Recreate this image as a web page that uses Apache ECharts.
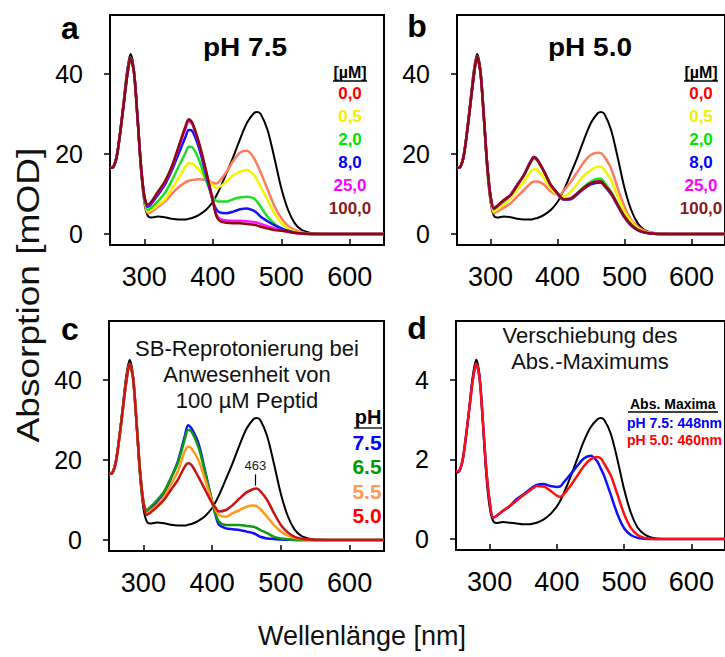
<!DOCTYPE html>
<html>
<head>
<meta charset="utf-8">
<script src="https://cdn.jsdelivr.net/npm/echarts@6/dist/echarts.min.js"></script>
<style>
html,body{margin:0;padding:0;background:#fff;}
#chart{width:725px;height:657px;}
</style>
</head>
<body>
<div id="chart"></div>
<script>
// Wavelength grid shared by all spectra (nm)
const wavelengths = [250,255,260,265,270,275,280,285,290,295,300,305,310,320,330,340,350,360,365,370,380,390,400,405,410,420,430,440,450,460,465,470,480,490,500,510,520,530,540,550,560,580,600,620,650];

// Reference spectrum without peptide (black), mOD
const blackRef = [16.5,17.0,20.0,26.0,33.5,41.0,45.0,41.0,29.0,16.0,8.0, 4.6,4.1,4.4,4.2,3.8,3.6,3.6,3.8,4.0,4.8,6.0,8.0,9.5,11.2,15.2,19.3,23.8,27.8,30.2,30.5,30.0,26.0,19.0,11.5,6.0,2.6,1.0,0.4,0.15,0.05,0,0,0,0];

// (a) pH 7.5, peptide concentration series [µM]
const a_0_0   = [16.5,16.8,19.5,25.5,32.5,39.5,44.0,40.5,29.5,17.5,9.0, 5.2,5.5,6.8,8.1,10.0,11.7,12.9,13.3,13.5,13.7,13.5,12.8,12.6,13.2,15.5,18.3,20.4,20.8,19.0,17.3,15.4,11.2,7.0,4.0,2.0,1.0,0.4,0.15,0.05,0,0,0,0,0];
const a_0_5   = [16.5,16.8,19.5,25.5,32.5,39.5,44.0,40.5,29.5,17.5,9.5, 5.6,6.0,7.3,8.6,11.2,14.0,16.8,17.7,17.6,16.0,13.9,12.2,11.5,11.8,13.1,14.7,15.6,16.0,14.8,13.5,11.8,8.5,5.2,2.8,1.4,0.6,0.25,0.1,0,0,0,0,0,0];
const a_2_0   = [16.5,16.8,19.5,25.5,32.5,39.5,44.0,40.5,29.5,17.5,9.5, 6.0,6.5,8.2,10.2,13.3,16.8,20.2,21.8,21.7,18.5,13.5,9.3,8.3,8.1,8.1,8.7,9.2,9.3,8.9,8.0,6.8,4.3,2.6,1.4,0.6,0.25,0.1,0,0,0,0,0,0,0];
const a_8_0   = [16.5,16.8,19.5,25.5,32.5,39.5,44.0,40.5,29.5,17.5,9.5, 6.8,7.5,9.8,12.3,15.8,20.0,24.2,26.0,25.8,21.5,15.0,8.3,6.2,5.4,5.2,5.6,6.2,6.4,5.8,5.2,4.3,3.2,2.2,1.4,0.8,0.35,0.1,0,0,0,0,0,0,0];
const a_25_0  = [16.5,16.8,19.5,25.5,32.5,39.5,44.0,40.5,29.5,17.5,9.5, 7.2,7.9,10.4,12.9,16.5,21.4,26.3,28.2,27.5,22.5,15.8,8.4,5.0,3.8,3.4,3.3,3.3,3.2,3.0,2.8,2.5,1.9,1.4,0.9,0.5,0.25,0.1,0,0,0,0,0,0,0];
const a_100_0 = [16.5,16.8,19.5,25.5,32.5,39.5,44.0,40.5,29.5,17.5,9.5, 7.3,8.0,10.6,13.1,16.8,21.8,26.8,28.7,27.9,22.8,16.0,8.5,4.6,3.3,2.8,2.7,2.7,2.5,2.3,2.1,1.8,1.4,1.0,0.8,0.6,0.3,0.15,0.05,0,0,0,0,0,0];

// (b) pH 5.0, peptide concentration series [µM]
const b_0_0   = [16.5,16.8,19.5,25.5,32.5,39.5,44.3,40.5,29.5,17.5,9.0, 5.2,5.6,6.6,7.7,9.4,11.0,12.7,13.1,13.1,12.3,10.6,9.8,10.0,11.0,13.1,15.6,18.1,19.8,20.3,20.2,19.3,16.4,11.4,6.8,3.5,1.8,0.8,0.3,0.1,0,0,0,0,0];
const b_0_5   = [16.5,16.8,19.5,25.5,32.5,39.5,44.3,40.5,29.5,17.5,9.5, 5.6,6.1,7.4,8.9,11.0,13.1,15.6,16.2,16.0,13.9,11.4,9.7,9.3,9.4,10.6,12.7,14.7,16.0,16.8,16.8,16.0,13.5,9.3,5.6,3.1,1.4,0.5,0.2,0.05,0,0,0,0,0];
const b_2_0   = [16.5,16.8,19.5,25.5,32.5,39.5,44.3,40.5,29.5,17.5,9.5, 6.2,6.8,8.2,9.7,12.2,14.7,17.8,18.8,18.3,15.5,12.2,10.1,9.0,8.7,8.9,10.3,11.9,13.1,13.8,13.8,12.9,10.6,7.5,4.5,2.4,1.1,0.45,0.15,0,0,0,0,0,0];
const b_8_0   = [16.5,16.8,19.5,25.5,32.5,39.5,44.3,40.5,29.5,17.5,9.5, 6.4,7.0,8.4,9.8,12.3,14.8,18.2,19.3,18.6,15.6,12.2,10.1,9.0,8.6,8.7,10.0,11.4,12.4,12.8,12.8,12.0,9.9,7.0,4.1,2.1,0.9,0.35,0.1,0,0,0,0,0,0];
const b_25_0  = [16.5,16.8,19.5,25.5,32.5,39.5,44.3,40.5,29.5,17.5,9.5, 6.4,7.0,8.5,9.8,12.3,14.8,18.1,19.2,18.5,15.6,12.2,10.2,9.0,8.7,8.9,10.2,11.6,12.7,13.1,13.1,12.2,10.2,7.2,4.3,2.2,1.0,0.4,0.1,0,0,0,0,0,0];
const b_100_0 = [16.5,16.8,19.5,25.5,32.5,39.5,44.3,40.5,29.5,17.5,9.5, 6.4,7.0,8.5,9.75,12.2,14.75,18.1,19.2,18.5,15.6,12.25,10.2,9.1,8.7,8.9,10.2,11.6,12.7,13.1,13.1,12.25,10.2,7.25,4.3,2.25,1.0,0.4,0.1,0,0,0,0,0,0];

// (c) 100 µM peptide, pH series
const c_pH75 = [16.5,16.8,19.5,25.5,32.5,39.5,44.0,40.5,29.5,17.5,9.5, 7.1,7.8,9.6,11.7,15.4,19.6,25.8,28.7,27.9,24.2,17.1,9.6,6.2,3.8,2.9,2.7,2.5,2.1,1.7,1.3,0.8,0.4,0.25,0.1,0.05,0,0,0,0,0,0,0,0,0];
const c_pH65 = [16.5,16.8,19.5,25.5,32.5,39.5,44.0,40.5,29.5,17.5,9.5, 7.5,8.2,10.0,12.1,15.5,19.2,25.0,27.5,27.1,23.3,16.7,9.6,6.6,4.6,3.75,3.75,3.75,3.5,3.3,3.0,2.5,1.7,0.8,0.4,0.2,0.05,0,0,0,0,0,0,0,0];
const c_pH55 = [16.5,16.8,19.5,25.5,32.5,39.5,44.0,40.5,29.5,17.5,9.5, 6.7,7.3,8.8,10.8,13.8,17.1,22.1,23.3,22.9,20.0,15.0,9.6,7.6,6.25,5.8,6.7,7.5,8.3,8.6,8.4,7.75,5.8,3.75,2.1,1.1,0.5,0.2,0.05,0,0,0,0,0,0];
const c_pH50 = [16.5,16.8,19.5,25.5,32.5,39.5,44.0,40.5,29.5,17.5,9.5, 6.25,6.8,8.3,10.0,12.5,15.0,18.3,19.2,18.75,15.8,12.5,9.2,8.1,7.1,7.5,8.75,10.4,11.9,12.75,12.9,12.25,10.0,6.7,3.75,1.9,0.8,0.3,0.1,0,0,0,0,0,0];
const c_peakNm = 463;

// (d) shift of the absorption maximum (scaled spectra)
const d_black = [1.65,1.7,2.0,2.6,3.35,4.1,4.5,4.1,2.9,1.6,0.8, 0.46,0.4,0.43,0.41,0.39,0.37,0.37,0.39,0.41,0.49,0.62,0.82,0.96,1.14,1.55,2.0,2.45,2.8,3.0,3.04,3.0,2.65,2.0,1.25,0.66,0.29,0.12,0.04,0.01,0,0,0,0,0];
const d_pH75  = [1.7,1.72,2.0,2.6,3.3,4.0,4.4,4.05,2.95,1.75,0.95, 0.54,0.58,0.71,0.83,1.0,1.12,1.25,1.31,1.36,1.38,1.33,1.31,1.32,1.42,1.62,1.83,2.02,2.09,1.95,1.78,1.6,1.12,0.63,0.27,0.1,0.03,0.01,0,0,0,0,0,0,0];
const d_pH50  = [1.7,1.72,2.0,2.6,3.3,4.0,4.4,4.05,2.95,1.75,0.95, 0.54,0.58,0.71,0.83,0.96,1.1,1.22,1.28,1.33,1.32,1.22,1.09,1.06,1.12,1.33,1.58,1.83,2.0,2.06,2.03,1.9,1.6,1.12,0.63,0.28,0.1,0.03,0.01,0,0,0,0,0,0];

// Axis tick labels
const xTicks = [300,400,500,600];
const yTicksMain = [0,20,40];
const yTicksD = [0,2,4];

// Legend / caption texts
const concLabels = ['0,0','0,5','2,0','8,0','25,0','100,0'];
const pHLabels = ['7.5','6.5','5.5','5.0'];
const maximaLabels = ['pH 7.5: 448nm','pH 5.0: 460nm'];

const FONT = '"Liberation Sans", Arial, sans-serif';
const concLineColors = ['#ff7b5e','#f4f400','#22dc22','#1212ff','#ff10ff','#8b0b0b'];
const concTextColors = ['#ff0000','#f0f000','#00e600','#0000ff','#ff00ff','#8b1a1a'];
const pHLineColors = ['#1010ff','#109a10','#ff9a1c','#c81414'];
const pHTextColors = ['#0000ff','#009900','#ff9a55','#ff0000'];

const grids = [
  {left:110, top:15,  width:274, height:230},
  {left:457, top:15,  width:276, height:230},
  {left:109, top:321, width:275, height:230},
  {left:456, top:321, width:274, height:229}
];

function pts(vals){ return wavelengths.map((w,i)=>[w, vals[i]]); }
function line(gi, vals, color, width, extra){
  return Object.assign({
    type:'line', xAxisIndex:gi, yAxisIndex:gi, data:pts(vals),
    showSymbol:false, symbol:'none', smooth:0.3, silent:true, animation:false,
    lineStyle:{color:color, width:width}, itemStyle:{color:color}
  }, extra || {});
}

const xAxes = grids.map((g,i)=>({
  gridIndex:i, type:'value', min:250, max:650,
  axisLine:{show:true, onZero:false, lineStyle:{color:'#000', width:2}},
  axisTick:{show:true, inside:true, length:6, customValues:xTicks, lineStyle:{color:'#000', width:1.5}},
  axisLabel:{customValues:xTicks, fontSize:27, color:'#000', margin:18, fontFamily:FONT},
  splitLine:{show:false}
}));
const yAxes = grids.map((g,i)=>{
  const isD = i === 3;
  const ticks = isD ? yTicksD : yTicksMain;
  return {
    gridIndex:i, type:'value',
    min: isD ? -0.275 : -2.75, max: isD ? 5.475 : 54.75,
    axisLine:{show:true, onZero:false, lineStyle:{color:'#000', width:2}},
    axisTick:{show:true, inside:false, length:6, customValues:ticks, lineStyle:{color:'#000', width:1.5}},
    axisLabel:{customValues:ticks, fontSize:25, color:'#000', margin:27, fontFamily:FONT},
    splitLine:{show:false}
  };
});

const series = [];
// (a)
series.push(line(0, blackRef, '#000', 2));
[a_0_0,a_0_5,a_2_0,a_8_0,a_25_0,a_100_0].forEach((v,k)=>series.push(line(0, v, concLineColors[k], 2.5)));
// (b)
series.push(line(1, blackRef, '#000', 2));
[b_0_0,b_0_5,b_2_0,b_8_0,b_25_0,b_100_0].forEach((v,k)=>series.push(line(1, v, concLineColors[k], 2.5)));
// (c)
series.push(line(2, blackRef, '#000', 2));
[c_pH75,c_pH65,c_pH55].forEach((v,k)=>series.push(line(2, v, pHLineColors[k], 2.5)));
series.push(line(2, c_pH50, pHLineColors[3], 2.5, {
  markLine:{
    silent:true, symbol:'none', animation:false,
    lineStyle:{color:'#000', width:1.2, type:'solid'},
    label:{show:true, position:'end', formatter:String(c_peakNm), fontSize:13, color:'#222', fontFamily:FONT, distance:2},
    data:[[{coord:[c_peakNm, 13.6]},{coord:[c_peakNm, 16.4]}]]
  }
}));
// (d)
series.push(line(3, d_black, '#000', 2));
series.push(line(3, d_pH75, '#1010ff', 2.5));
series.push(line(3, d_pH50, '#ff1010', 2.5));

// Text overlays
const graphics = [];
function txt(text, x, y, opts){
  opts = opts || {};
  const el = {
    type:'text', x:x, y:y, silent:true,
    style:{
      text:text, fill:opts.color || '#000',
      font:(opts.weight || 'normal') + ' ' + (opts.size || 16) + 'px ' + FONT,
      textAlign:opts.align || 'center', textVerticalAlign:'middle',
      align:opts.align || 'center', verticalAlign:'middle'
    }
  };
  if (opts.rotation) el.rotation = opts.rotation;
  if (opts.scaleX) el.scaleX = opts.scaleX;
  graphics.push(el);
}
function uline(x1, x2, y){
  graphics.push({type:'line', silent:true, shape:{x1:x1, y1:y, x2:x2, y2:y}, style:{stroke:'#000', lineWidth:1.3}});
}

// panel letters
txt('a', 70, 28, {weight:'bold', size:32});
txt('b', 417, 26, {weight:'bold', size:32});
txt('c', 70, 329, {weight:'bold', size:32});
txt('d', 417, 328, {weight:'bold', size:32});

// panel titles
txt('pH 7.5', 245, 48, {weight:'bold', size:25, scaleX:1.12});
txt('pH 5.0', 590, 48, {weight:'bold', size:25, scaleX:1.12});
txt('SB-Reprotonierung bei', 247, 348, {size:22, color:'#111'});
txt('Anwesenheit von', 247, 374, {size:22, color:'#111'});
txt('100 µM Peptid', 247, 400, {size:22, color:'#111'});
txt('Verschiebung des', 590, 335, {size:22, color:'#111'});
txt('Abs.-Maximums', 590, 361, {size:22, color:'#111'});

// concentration legends (a, b)
const legY = [93,116,139,162,185,208];
[[350],[701]].forEach(([cx])=>{
  txt('[µM]', cx, 72, {weight:'bold', size:16});
  uline(cx-17, cx+17, 81);
  concLabels.forEach((t,k)=>txt(t, cx, legY[k], {weight:'bold', size:17, color:concTextColors[k]}));
});

// pH legend (c)
txt('pH', 368, 417, {weight:'bold', size:20});
uline(354, 382, 428);
pHLabels.forEach((t,k)=>txt(t, 367, 442 + k*24.5, {weight:'bold', size:21, color:pHTextColors[k]}));

// maxima legend (d)
txt('Abs. Maxima', 630, 404, {weight:'bold', size:14, align:'left'});
uline(628, 718, 412);
txt(maximaLabels[0], 627, 423, {weight:'bold', size:14, align:'left', color:'#0000ff'});
txt(maximaLabels[1], 627, 440, {weight:'bold', size:14, align:'left', color:'#ff0000'});

// axis titles
txt('Absorption [mOD]', 28, 295, {size:32, rotation:Math.PI/2, scaleX:1.16, color:'#111'});
txt('Wellenlänge [nm]', 362, 636, {size:27, color:'#111'});

const chart = echarts.init(document.getElementById('chart'), null, {renderer:'svg'});
chart.setOption({
  animation:false,
  backgroundColor:'#fff',
  grid: grids.map(g=>Object.assign({show:true, borderColor:'#000', borderWidth:2, backgroundColor:'transparent', containLabel:false}, g)),
  xAxis:xAxes,
  yAxis:yAxes,
  series:series,
  graphic:{elements:graphics}
});
</script>
</body>
</html>
